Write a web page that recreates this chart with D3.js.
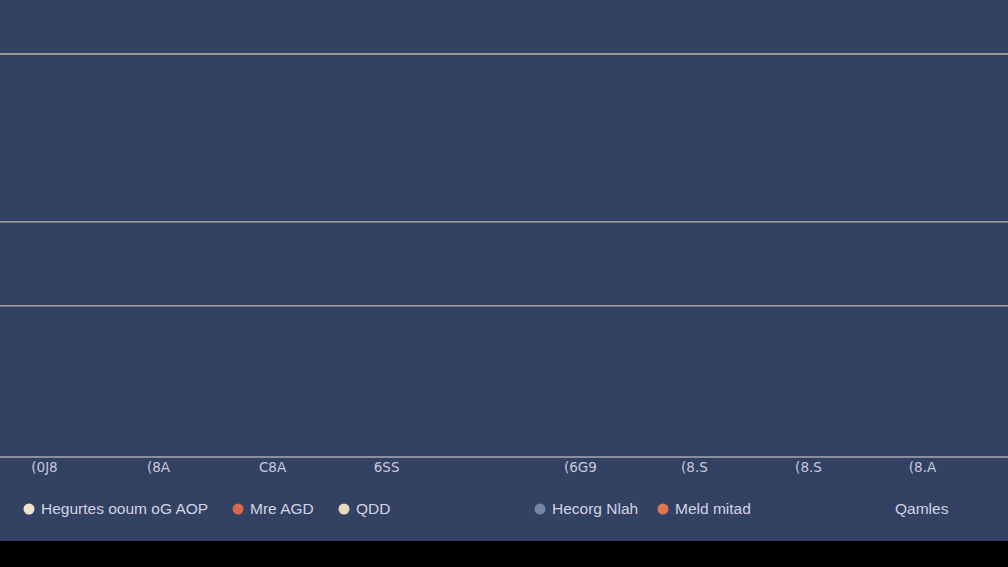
<!DOCTYPE html>
<html>
<head>
<meta charset="utf-8">
<script src="https://cdn.jsdelivr.net/npm/d3@7"></script>
<style>
  html, body { margin: 0; padding: 0; background: #000; }
  svg { display: block; }
</style>
</head>
<body>
<div id="chart"></div>
<script>
// values (labels are as garbled as in the reference)
const TICK_LABELS = ["(0J8", "(8A", "C8A", "6SS", "(6G9", "(8.S", "(8.S", "(8.A"];
const TICK_POS = [0, 1, 2, 3, 4.7, 5.7, 6.7, 7.7];
const GRID_VALUES = [18, 28, 48];
const LEGEND_LABELS = ["Hegurtes ooum oG AOP", "Mre AGD", "QDD", "Hecorg Nlah", "Meld mitad", "Qamles"];
const LEGEND_COLORS = ["#efe6d0", "#d9694a", "#e6dab8", "#7585a6", "#e0764f", null];

const WIDTH = 1008;
const HEIGHT = 567;
const PANEL_H = 541;
const BG = "#334163";
const LINE_COLOR = "#bdb6a6";

const svg = d3.select('#chart').append('svg')
  .attr('width', WIDTH)
  .attr('height', HEIGHT);

svg.append('rect').attr('width', WIDTH).attr('height', HEIGHT).attr('fill', '#000');
svg.append('rect').attr('width', WIDTH).attr('height', PANEL_H).attr('fill', BG);

const x = d3.scaleLinear().domain([0, 7.7]).range([44, 922]);
const y = d3.scaleLinear().domain([0, 48]).range([457, 54]);

// grid lines
svg.selectAll('line.grid')
  .data(GRID_VALUES)
  .enter()
  .append('line')
  .attr('class', 'grid')
  .attr('x1', 0).attr('x2', WIDTH)
  .attr('y1', d => y(d)).attr('y2', d => y(d))
  .attr('stroke', LINE_COLOR)
  .attr('stroke-width', 1.3);

// bottom axis
const xAxis = d3.axisBottom(x)
  .tickValues(TICK_POS)
  .tickSize(0)
  .tickPadding(5)
  .tickFormat((d, i) => TICK_LABELS[i]);

const gx = svg.append('g')
  .attr('transform', `translate(0,${y(0)})`)
  .call(xAxis);
gx.select('.domain').remove();
gx.append('line')
  .attr('x1', 0).attr('x2', WIDTH)
  .attr('stroke', '#a9a9b8')
  .attr('stroke-width', 1.5);
gx.selectAll('text')
  .attr('fill', '#c9c9dc')
  .attr('font-family', 'DejaVu Sans, sans-serif')
  .attr('font-size', 13.5);

// legend
const LEGEND_X = [29, 238, 344, 540, 663, 895];
const leg = svg.append('g')
  .selectAll('g')
  .data(LEGEND_LABELS)
  .enter()
  .append('g')
  .attr('transform', (d, i) => `translate(${LEGEND_X[i]},509)`);

leg.filter((d, i) => LEGEND_COLORS[i])
  .append('circle')
  .attr('r', 5.5)
  .attr('fill', d => LEGEND_COLORS[LEGEND_LABELS.indexOf(d)]);

leg.append('text')
  .attr('x', (d, i) => LEGEND_COLORS[i] ? 12 : 0)
  .attr('dy', '0.35em')
  .attr('fill', '#d2d3e2')
  .attr('font-family', 'Liberation Sans, Arial, sans-serif')
  .attr('font-size', 15.5)
  .text(d => d);
</script>
</body>
</html>
